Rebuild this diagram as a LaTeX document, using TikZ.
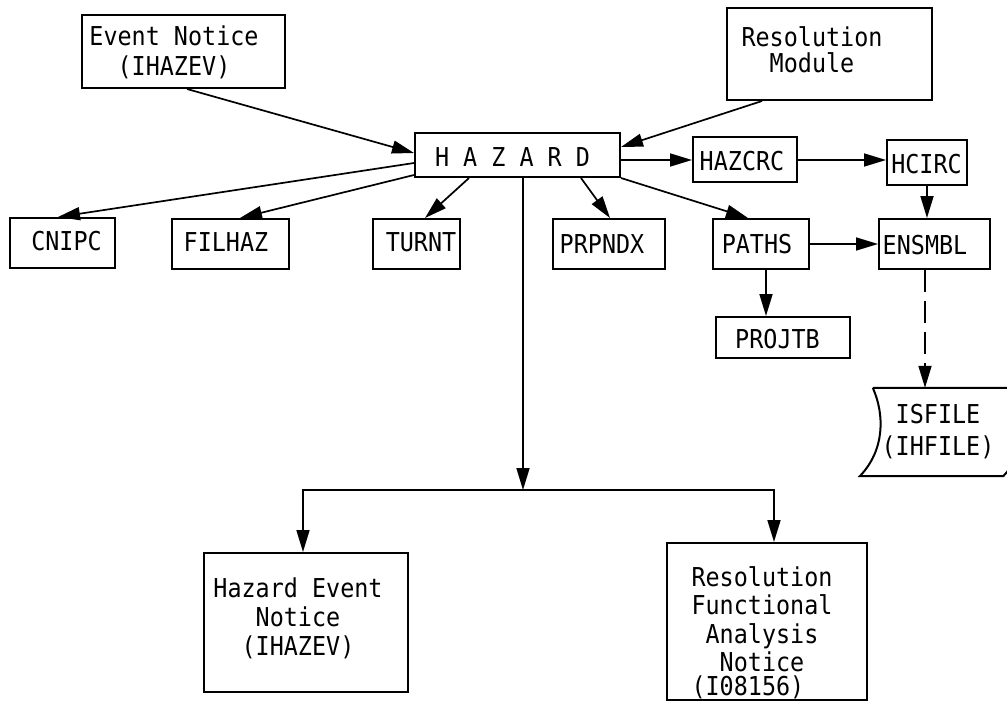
\documentclass[tikz,border=0pt]{standalone}
\usepackage{fontspec}
\newfontfamily\monof[FakeStretch=0.9]{DejaVu Sans Mono}
\usetikzlibrary{arrows.meta,calc}
\begin{document}
\begin{tikzpicture}[x=1pt,y=-1pt,
  box/.style={draw, line width=2pt, inner sep=0pt},
  txt/.style={font=\monof\fontsize{26}{29}\selectfont, align=center, inner sep=0pt},
  arr/.style={line width=1.7pt, -{Triangle[length=22pt,width=13pt]}},
  dsh/.style={dash pattern=on 22pt off 9pt}]
\useasboundingbox (0,0) rectangle (1007,713);

% boxes
\node[box, minimum width=203pt, minimum height=73pt] (ev) at (183.5,51.5) {};
\node[txt] (evt) at (174,52) {Event Notice\\[1pt](IHAZEV)};
\node[box, minimum width=205pt, minimum height=92pt] (rm) at (829.5,54) {};
\node[txt] (rmt) at (812,50) {Resolution\\[-3pt]Module};
\node[box, minimum width=205pt, minimum height=44pt] (hz) at (517.5,155) {};
\node[txt] (hzt) at (512.5,157) {H A Z A R D};
\node[box, minimum width=104pt, minimum height=45pt] (hc) at (745,159.5) {};
\node[txt] (hct) at (742,161) {HAZCRC};
\node[box, minimum width=80pt, minimum height=45pt] (hi) at (927,162.5) {};
\node[txt] (hit) at (926.5,164) {HCIRC};
\node[box, minimum width=105pt, minimum height=50pt] (cn) at (62.5,243) {};
\node[txt] (cnt) at (66.5,241) {CNIPC};
\node[box, minimum width=117pt, minimum height=50pt] (fi) at (230.5,244) {};
\node[txt] (fit) at (226,242) {FILHAZ};
\node[box, minimum width=87pt, minimum height=50pt] (tu) at (416.5,244) {};
\node[txt] (tut) at (421,242) {TURNT};
\node[box, minimum width=112pt, minimum height=50pt] (pr) at (609,244) {};
\node[txt] (prt) at (602,244) {PRPNDX};
\node[box, minimum width=96pt, minimum height=50pt] (pa) at (761,244) {};
\node[txt] (pat) at (757,244) {PATHS};
\node[box, minimum width=111pt, minimum height=50pt] (en) at (934.5,244) {};
\node[txt] (ent) at (925,245) {ENSMBL};
\node[box, minimum width=134pt, minimum height=41pt] (pj) at (783,337.5) {};
\node[txt] (pjt) at (777.5,339) {PROJTB};

% stored file
\node[txt, minimum width=130pt, minimum height=88pt] (isf) at (938,432) {ISFILE\\[3pt](IHFILE)};
\draw[line width=2pt] (isf.north west) -- ($(isf.north east)+(13,0)$)
  .. controls ($(isf.north east)+(25,27)$) and ($(isf.south east)+(25,-26)$) .. (isf.south east)
  -- ($(isf.south west)+(-13,0)$)
  .. controls ($(isf.south west)+(12,-26)$) and ($(isf.north west)+(12,27)$) .. (isf.north west);

\node[box, minimum width=204pt, minimum height=139pt] (he) at (306,622.5) {};
\node[txt] (het) at (298,618.5) {Hazard Event\\Notice\\(IHAZEV)};
\node[box, minimum width=200pt, minimum height=157pt] (rf) at (767,621.5) {};
\node[txt] (rft) at (762,633) {Resolution\\[-1pt]Functional\\Analysis\\[-1pt]Notice\\[-5pt](I08156)\hphantom{AA}};

% connectors
\draw[arr] ($(ev.south)+(3.5,0)$) -- ($(hz.west)+(0,-2)$);
\draw[arr] ($(rm.south)+(-67.5,0)$) -- ($(hz.east)+(0,-8)$);
\draw[arr] ($(hz.west)+(0,8)$) -- ($(cn.north)+(-4.5,0)$);
\draw[arr] ($(hz.west)+(0,20)$) -- ($(fi.north)+(9.5,0)$);
\draw[arr] ($(hz.south west)+(55,0)$) -- ($(tu.north)+(8.5,0)$);
\draw[arr] ($(hz.south west)+(167,0)$) -- ($(pr.north)+(1,0)$);
\draw[arr] (hz.south east) -- ($(pa.north)+(-13,0)$);
\draw[arr] ($(hz.east)+(0,5)$) -- ({$(hz.east)+(0,5)$} -| hc.west);
\draw[arr] ($(hc.east)+(0,0.5)$) -- ({$(hc.east)+(0,0.5)$} -| hi.west);
\draw[arr] (hi.south) -- (hi.south |- en.north);
\draw[arr] (pa.east) -- (pa.east -| en.west);
\draw[arr] ($(pa.south)+(5,0)$) -- ({$(pa.south)+(5,0)$} |- pj.north);
\draw[arr, dsh] ($(en.south)+(-9.5,0)$) -- ({$(en.south)+(-9.5,0)$} |- isf.north);

\coordinate (junc) at (523,490);
\draw[arr] (hz.south -| junc) -- (junc);
\draw[arr] (junc) -| ($(he.north)+(-3,0)$);
\draw[arr] (junc) -| ($(rf.north)+(7,0)$);
\end{tikzpicture}
\end{document}
